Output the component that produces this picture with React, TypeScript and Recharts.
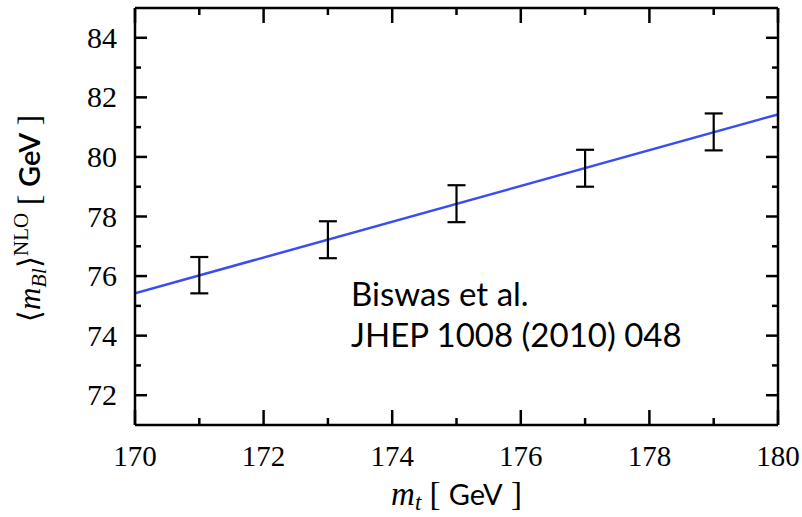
import React from 'react';
import { ComposedChart, Line, Scatter, ErrorBar, XAxis, YAxis } from 'recharts';

const massPoints = [171, 173, 175, 177, 179];
const meanValues = [76.03, 77.22, 78.43, 79.62, 80.84];
const errValues = [0.61, 0.62, 0.62, 0.62, 0.62];
const fitX = [170, 180];
const fitY = [75.42, 81.43];
const xTicks = [170, 171, 172, 173, 174, 175, 176, 177, 178, 179, 180];
const yTicks = [72, 73, 74, 75, 76, 77, 78, 79, 80, 81, 82, 83, 84];
const xLabelTicks = [170, 172, 174, 176, 178, 180];
const yLabelTicks = [72, 74, 76, 78, 80, 82, 84];

const pointData = massPoints.map((x, i) => ({ x, y: meanValues[i], err: errValues[i] }));
const fitData = fitX.map((x, i) => ({ x, y: fitY[i] }));

const SERIF = '"Liberation Serif", "DejaVu Serif", serif';
const SANS = 'Lato, "Open Sans", "Noto Sans", sans-serif';
const FRAME = 2.5;

const BottomTick = (props: any) => {
  const { x, y, payload } = props;
  const v = payload.value;
  const major = xLabelTicks.includes(v);
  return (
    <g>
      <line x1={x} x2={x} y1={y} y2={y - (major ? 15 : 7)} stroke="#000" strokeWidth={FRAME} />
      {major && (
        <text x={x} y={y + 41} textAnchor="middle" fontFamily={SERIF} fontSize={29} fill="#000">
          {v}
        </text>
      )}
    </g>
  );
};

const TopTick = (props: any) => {
  const { x, y, payload } = props;
  const major = xLabelTicks.includes(payload.value);
  return <line x1={x} x2={x} y1={y} y2={y + (major ? 15 : 7)} stroke="#000" strokeWidth={FRAME} />;
};

const LeftTick = (props: any) => {
  const { x, y, payload } = props;
  const v = payload.value;
  const major = yLabelTicks.includes(v);
  return (
    <g>
      <line x1={x} x2={x + (major ? 12 : 6)} y1={y} y2={y} stroke="#000" strokeWidth={FRAME} />
      {major && (
        <text x={x - 18} y={y + 10} textAnchor="end" fontFamily={SERIF} fontSize={30} fill="#000">
          {v}
        </text>
      )}
    </g>
  );
};

const RightTick = (props: any) => {
  const { x, y, payload } = props;
  const major = yLabelTicks.includes(payload.value);
  return <line x1={x} x2={x - (major ? 12 : 6)} y1={y} y2={y} stroke="#000" strokeWidth={FRAME} />;
};

const XLabel = (props: any) => {
  const vb = props.viewBox || { x: 135, y: 425, width: 643 };
  const cx = vb.x + vb.width / 2;
  return (
    <text x={cx} y={505} textAnchor="middle" fill="#000">
      <tspan fontFamily={SERIF} fontStyle="italic" fontSize={33}>m</tspan>
      <tspan fontFamily={SERIF} fontStyle="italic" fontSize={23} dy={5}>t</tspan>
      <tspan fontFamily={SERIF} fontSize={33} dy={-5}> [ </tspan>
      <tspan fontFamily={SANS} fontSize={29}>GeV</tspan>
      <tspan fontFamily={SERIF} fontSize={33}> ]</tspan>
    </text>
  );
};

const YLabel = (props: any) => {
  const vb = props.viewBox || { x: 0, y: 8, width: 135, height: 417 };
  const cy = vb.y + vb.height / 2 + 2;
  const bx = 40;
  return (
    <text x={bx} y={cy} textAnchor="middle" fill="#000" transform={`rotate(-90, ${bx}, ${cy})`}>
      <tspan fontFamily={SERIF} fontSize={31}>⟨</tspan>
      <tspan fontFamily={SERIF} fontStyle="italic" fontSize={31}>m</tspan>
      <tspan fontFamily={SERIF} fontStyle="italic" fontSize={22} dy={6}>Bl</tspan>
      <tspan fontFamily={SERIF} fontSize={31} dy={-6}>⟩</tspan>
      <tspan fontFamily={SERIF} fontSize={21} dy={-12}>NLO</tspan>
      <tspan fontFamily={SERIF} fontSize={31} dy={12}>{'  [ '}</tspan>
      <tspan fontFamily={SANS} fontSize={29} fontWeight={600}>GeV</tspan>
      <tspan fontFamily={SERIF} fontSize={31}> ]</tspan>
    </text>
  );
};

export default function App() {
  return (
    <div style={{ position: 'absolute', left: 0, top: 0, width: 802, height: 517, background: '#fff', overflow: 'hidden' }}>
      <ComposedChart width={802} height={517} margin={{ top: 0, right: 0, bottom: 0, left: 0 }}>
        <XAxis
          dataKey="x"
          type="number"
          domain={[170, 180]}
          ticks={xTicks}
          interval={0}
          allowDataOverflow
          height={92}
          tickSize={0}
          tickMargin={0}
          tickLine={false}
          axisLine={{ stroke: '#000', strokeWidth: FRAME }}
          tick={BottomTick}
          label={{ content: XLabel }}
        />
        <XAxis
          xAxisId="top"
          dataKey="x"
          orientation="top"
          type="number"
          domain={[170, 180]}
          ticks={xTicks}
          interval={0}
          allowDataOverflow
          height={8}
          tickSize={0}
          tickMargin={0}
          tickLine={false}
          axisLine={{ stroke: '#000', strokeWidth: FRAME }}
          tick={TopTick}
        />
        <YAxis
          type="number"
          domain={[71, 85]}
          ticks={yTicks}
          interval={0}
          allowDataOverflow
          width={135}
          tickSize={0}
          tickMargin={0}
          tickLine={false}
          axisLine={{ stroke: '#000', strokeWidth: FRAME }}
          tick={LeftTick}
          label={{ content: YLabel }}
        />
        <YAxis
          yAxisId="right"
          orientation="right"
          type="number"
          domain={[71, 85]}
          ticks={yTicks}
          interval={0}
          allowDataOverflow
          width={24}
          tickSize={0}
          tickMargin={0}
          tickLine={false}
          axisLine={{ stroke: '#000', strokeWidth: FRAME }}
          tick={RightTick}
        />
        <Line
          data={fitData}
          dataKey="y"
          type="linear"
          stroke="#3a4ef0"
          strokeWidth={2.5}
          dot={false}
          activeDot={false}
          isAnimationActive={false}
        />
        <Scatter data={pointData} dataKey="y" shape={() => <g />} isAnimationActive={false}>
          <ErrorBar dataKey="err" direction="y" width={9} stroke="#000" strokeWidth={2.2} isAnimationActive={false} />
        </Scatter>
        <Scatter
          data={pointData}
          dataKey="y"
          xAxisId="top"
          yAxisId="right"
          shape={() => <g />}
          legendType="none"
          isAnimationActive={false}
        />
      </ComposedChart>
      <div
        style={{
          position: 'absolute',
          left: 351,
          top: 273,
          fontFamily: SANS,
          fontSize: 33,
          lineHeight: '41px',
          color: '#000',
          whiteSpace: 'nowrap',
        }}
      >
        <div>Biswas et al.</div>
        <div>JHEP 1008 (2010) 048</div>
      </div>
    </div>
  );
}
